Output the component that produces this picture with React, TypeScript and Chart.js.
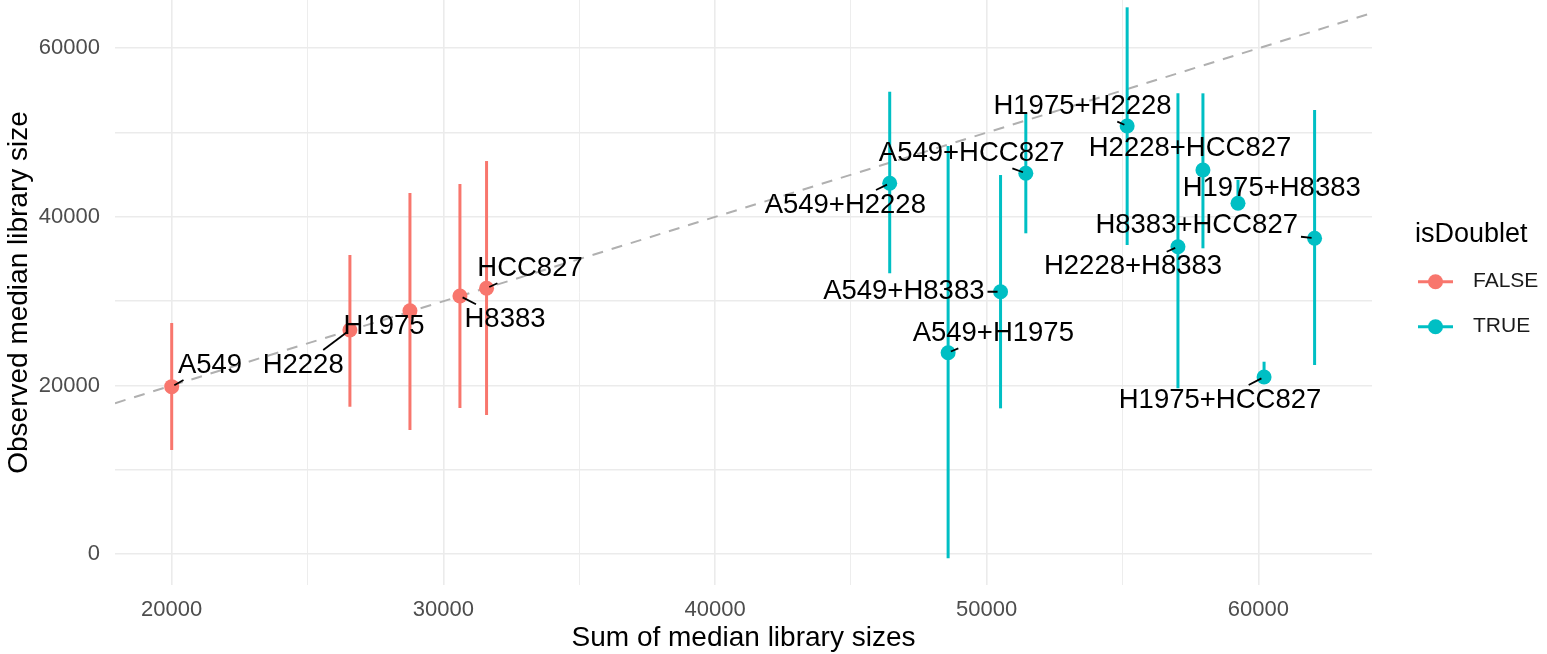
import React, { useEffect, useRef } from "react";
import { Chart, registerables } from "chart.js";

Chart.register(...registerables);

// ---------- data ----------
const singletNames = ["A549", "H2228", "H1975", "H8383", "HCC827"];
const singletSum = [20000, 26560, 28770, 30610, 31590];
const singletObserved = [19870, 26590, 28880, 30620, 31540];
const singletLow = [12360, 17490, 14730, 17340, 16510];
const singletHigh = [27420, 35490, 42840, 43910, 46630];

const doubletNames = [
  "A549+H2228",
  "A549+H1975",
  "A549+H8383",
  "A549+HCC827",
  "H1975+H2228",
  "H2228+HCC827",
  "H1975+H8383",
  "H2228+H8383",
  "H8383+HCC827",
  "H1975+HCC827",
];
const doubletSum = [46430, 48580, 50510, 51440, 55170, 57960, 59250, 57040, 62070, 60210];
const doubletObserved = [43990, 23900, 31130, 45180, 50790, 45570, 41620, 36470, 37470, 21020];
const doubletLow = [33320, -490, 17300, 38060, 36670, 36280, 40900, 19680, 22440, 20400];
const doubletHigh = [54850, 48410, 44970, 52290, 64860, 54660, 44400, 54660, 52680, 22830];

// repelled label anchors (data units, as placed by the label-repel step)
const singletLabelSum = [21410, 24840, 27820, 32270, 33190];
const singletLabelObserved = [22440, 22440, 27070, 27860, 33910];
const doubletLabelSum = [44795, 50243, 46949, 49448, 53527, 57484, 60491, 55386, 57730, 58588];
const doubletLabelObserved = [41416, 26199, 31133, 47547, 53074, 48140, 43396, 34098, 39044, 18288];

const xTickValues = [20000, 25000, 30000, 35000, 40000, 45000, 50000, 55000, 60000];
const yTickValues = [0, 10000, 20000, 30000, 40000, 50000, 60000];
const xRange = [17913, 64183];
const yRange = [-3650, 65728];

const legendTitle = "isDoublet";
const legendLabels = ["FALSE", "TRUE"];
const xTitle = "Sum of median library sizes";
const yTitle = "Observed median library size";

// ---------- styles ----------
const FONT = '"Liberation Sans", Arial, Helvetica, sans-serif';
const RED = "#F8766D";
const TEAL = "#00BFC4";
const groupColors = [RED, TEAL];

const groups = [
  { names: singletNames, x: singletSum, y: singletObserved, lo: singletLow, hi: singletHigh, lx: singletLabelSum, ly: singletLabelObserved },
  { names: doubletNames, x: doubletSum, y: doubletObserved, lo: doubletLow, hi: doubletHigh, lx: doubletLabelSum, ly: doubletLabelObserved },
];

const labelPlugin = {
  id: "repelLabels",
  afterDatasetsDraw(chart: any) {
    const { ctx } = chart;
    const xs = chart.scales.x;
    const ys = chart.scales.y;
    ctx.save();
    ctx.font = `27.5px ${FONT}`;
    ctx.textAlign = "center";
    ctx.textBaseline = "middle";
    groups.forEach((g) => {
      g.names.forEach((name, i) => {
        const px = xs.getPixelForValue(g.x[i]);
        const py = ys.getPixelForValue(g.y[i]);
        const lx = xs.getPixelForValue(g.lx[i]);
        const ly = ys.getPixelForValue(g.ly[i]);
        const w = ctx.measureText(name).width;
        const hw = w / 2 + 3;
        const hh = 15;
        const inside = px > lx - hw && px < lx + hw && py > ly - hh && py < ly + hh;
        if (!inside) {
          const dx = lx - px;
          const dy = ly - py;
          const tx = dx !== 0 ? ((dx > 0 ? lx - hw : lx + hw) - px) / dx : -Infinity;
          const ty = dy !== 0 ? ((dy > 0 ? ly - hh : ly + hh) - py) / dy : -Infinity;
          const t = Math.max(tx, ty);
          const ex = px + t * dx;
          const ey = py + t * dy;
          const len = Math.hypot(ex - px, ey - py);
          if (len > 9) {
            const d = Math.hypot(dx, dy);
            ctx.beginPath();
            ctx.moveTo(px + (dx / d) * 3, py + (dy / d) * 3);
            ctx.lineTo(ex, ey);
            ctx.strokeStyle = "#000";
            ctx.lineWidth = 1.8;
            ctx.stroke();
          }
        }
        ctx.fillStyle = "#000";
        ctx.fillText(name, lx, ly);
      });
    });
    ctx.restore();
  },
};

const legendPlugin = {
  id: "sideLegend",
  afterDraw(chart: any) {
    const { ctx, chartArea } = chart;
    const left = chartArea.right;
    ctx.save();
    ctx.textAlign = "left";
    ctx.textBaseline = "middle";
    ctx.fillStyle = "#000";
    ctx.font = `27px ${FONT}`;
    ctx.fillText(legendTitle, left + 43, 235);
    legendLabels.forEach((lab, i) => {
      const cy = 281.7 + i * 45;
      ctx.beginPath();
      ctx.moveTo(left + 46, cy);
      ctx.lineTo(left + 81, cy);
      ctx.strokeStyle = groupColors[i];
      ctx.lineWidth = 3;
      ctx.stroke();
      ctx.beginPath();
      ctx.arc(left + 63.5, cy, 7.5, 0, Math.PI * 2);
      ctx.fillStyle = groupColors[i];
      ctx.fill();
      ctx.fillStyle = "#1a1a1a";
      ctx.font = `21px ${FONT}`;
      ctx.fillText(lab, left + 101, cy);
    });
    ctx.restore();
  },
};

export default function App() {
  const canvasRef = useRef<HTMLCanvasElement | null>(null);

  useEffect(() => {
    if (!canvasRef.current) return;
    const datasets: any[] = [];

    groups.forEach((g, gi) => {
      datasets.push({
        type: "scatter",
        data: g.x.map((v, i) => ({ x: v, y: g.y[i] })),
        backgroundColor: groupColors[gi],
        borderWidth: 0,
        pointRadius: 7.5,
        pointHoverRadius: 7.5,
        order: 0,
      });
    });
    groups.forEach((g, gi) => {
      g.x.forEach((v, i) => {
        datasets.push({
          type: "line",
          data: [
            { x: v, y: g.lo[i] },
            { x: v, y: g.hi[i] },
          ],
          borderColor: groupColors[gi],
          borderWidth: 3,
          borderCapStyle: "butt",
          pointRadius: 0,
          fill: false,
          order: 1,
        });
      });
    });
    datasets.push({
      type: "line",
      data: [
        { x: xRange[0], y: xRange[0] },
        { x: xRange[1], y: xRange[1] },
      ],
      borderColor: "#b0b0b0",
      borderWidth: 2,
      borderDash: [11, 9],
      pointRadius: 0,
      fill: false,
      order: 2,
    });

    const gridWidth = (ctx: any) => (ctx.tick && ctx.tick.value % 10000 === 0 ? 1.6 : 0.9);

    const chart = new Chart(canvasRef.current, {
      type: "scatter",
      data: { datasets },
      options: {
        animation: false,
        responsive: true,
        maintainAspectRatio: false,
        devicePixelRatio: 1,
        events: [],
        layout: { autoPadding: false, padding: { left: 0, top: 0, bottom: 0, right: 175 } },
        plugins: { legend: { display: false }, tooltip: { enabled: false } },
        scales: {
          x: {
            type: "linear",
            min: xRange[0],
            max: xRange[1],
            afterBuildTicks: (s: any) => {
              s.ticks = xTickValues.map((v) => ({ value: v }));
            },
            afterFit: (s: any) => {
              s.height = 69;
              s.paddingLeft = 0;
              s.paddingRight = 0;
            },
            ticks: {
              autoSkip: false,
              maxRotation: 0,
              padding: 12,
              color: "#4d4d4d",
              font: { family: FONT, size: 22 },
              callback: (v: any) => (Number(v) % 10000 === 0 ? String(v) : ""),
            },
            grid: { color: "#ebebeb", lineWidth: gridWidth, drawTicks: false },
            border: { display: false },
            title: {
              display: true,
              text: xTitle,
              color: "#000",
              font: { family: FONT, size: 28, lineHeight: 1.1 },
              padding: { top: 0, bottom: 0 },
            },
          },
          y: {
            type: "linear",
            min: yRange[0],
            max: yRange[1],
            afterBuildTicks: (s: any) => {
              s.ticks = yTickValues.map((v) => ({ value: v }));
            },
            afterFit: (s: any) => {
              s.width = 115;
              s.paddingTop = 0;
              s.paddingBottom = 0;
            },
            ticks: {
              autoSkip: false,
              padding: 15,
              color: "#4d4d4d",
              font: { family: FONT, size: 22 },
              callback: (v: any) => (Number(v) % 20000 === 0 ? String(v) : ""),
            },
            grid: { color: "#ebebeb", lineWidth: gridWidth, drawTicks: false },
            border: { display: false },
            title: {
              display: true,
              text: yTitle,
              color: "#000",
              font: { family: FONT, size: 28, lineHeight: 1.1 },
              padding: { top: 4, bottom: 0 },
            },
          },
        },
      },
      plugins: [labelPlugin, legendPlugin],
    } as any);

    return () => chart.destroy();
  }, []);

  return (
    <div style={{ position: "fixed", left: 0, top: 0, width: 1547, height: 654, background: "#fff" }}>
      <canvas ref={canvasRef} />
    </div>
  );
}
